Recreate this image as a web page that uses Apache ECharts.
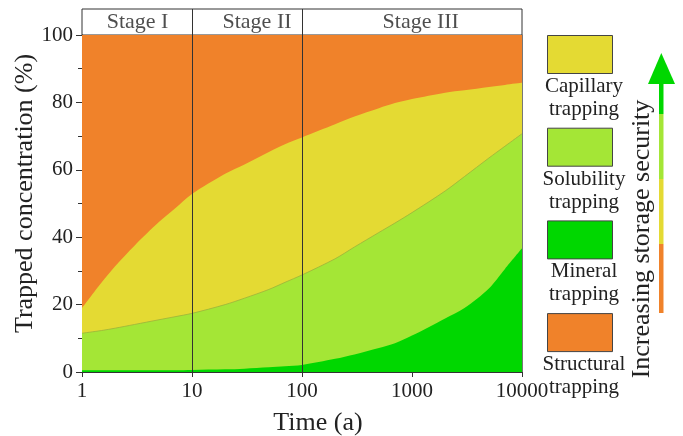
<!DOCTYPE html>
<html>
<head>
<meta charset="utf-8">
<script src="https://cdn.jsdelivr.net/npm/echarts@6/dist/echarts.min.js"></script>
<style>
html,body{margin:0;padding:0;background:#fff;}
#chart{width:683px;height:436px;}
</style>
</head>
<body>
<div id="chart"></div>
<script>
// ---- data ----
const times = [1, 1.5, 2, 3, 5, 7, 10, 20, 30, 50, 70, 100, 200, 300, 500, 700, 1000, 2000, 3000, 5000, 7000, 10000];
// cumulative upper boundaries (%) of each trapping layer
const structuralTop = [100, 100, 100, 100, 100, 100, 100, 100, 100, 100, 100, 100, 100, 100, 100, 100, 100, 100, 100, 100, 100, 100];
const capillaryTop  = [19.0, 26.5, 31.4, 37.5, 44.5, 48.5, 52.8, 58.8, 61.6, 65.3, 67.6, 69.6, 73.5, 75.8, 78.3, 79.8, 81.0, 82.9, 83.6, 84.6, 85.2, 85.8];
const solubilityTop = [11.5, 12.3, 13.0, 14.1, 15.5, 16.4, 17.4, 20.0, 21.9, 24.5, 26.6, 28.8, 33.6, 37.1, 41.4, 44.2, 47.3, 53.7, 58.0, 63.5, 67.0, 70.7];
const mineralTop    = [0.5, 0.5, 0.5, 0.5, 0.5, 0.5, 0.6, 0.8, 1.0, 1.4, 1.7, 2.1, 3.9, 5.2, 7.1, 8.5, 10.8, 15.9, 19.0, 24.8, 30.6, 36.7];

const seriesNames = ['Structural trapping', 'Capillary trapping', 'Solubility trapping', 'Mineral trapping'];
const legendOrder = ['Capillary trapping', 'Solubility trapping', 'Mineral trapping', 'Structural trapping'];
const stageNames = ['Stage I', 'Stage II', 'Stage III'];
const stageLabelX = [3.2, 39, 1200];
const stageBounds = [10, 100];
const yTicks = [0, 20, 40, 60, 80, 100];

const colors = {
  'Structural trapping': '#F0822A',
  'Capillary trapping': '#E4DA33',
  'Solubility trapping': '#A4E636',
  'Mineral trapping': '#00D700'
};
const layerData = [structuralTop, capillaryTop, solubilityTop, mineralTop];

const FONT = "'Liberation Serif','Times New Roman',serif";
const TXT = '#222';
const chart = echarts.init(document.getElementById('chart'), null, {renderer: 'canvas'});

const areaSeries = seriesNames.map((name, i) => ({
  name: name,
  type: 'line',
  xAxisIndex: 0,
  yAxisIndex: 0,
  data: times.map((t, k) => [t, layerData[i][k]]),
  smooth: 0.3,
  showSymbol: false,
  symbol: 'none',
  lineStyle: name === 'Solubility trapping' ? {width: 0.8, color: '#9db23a'} : {width: 0},
  itemStyle: {color: colors[name]},
  areaStyle: {color: colors[name], opacity: 1},
  silent: true,
  z: 2
}));

// divider lines in the main plot
areaSeries[areaSeries.length - 1].markLine = {
  symbol: 'none', silent: true, animation: false,
  label: {show: false},
  lineStyle: {color: '#333', width: 1, type: 'solid'},
  data: stageBounds.map(v => ({xAxis: v}))
};

const headerSeries = {
  type: 'scatter',
  xAxisIndex: 1,
  yAxisIndex: 2,
  symbolSize: 1,
  itemStyle: {color: 'rgba(0,0,0,0)'},
  data: stageNames.map((s, i) => [stageLabelX[i], 0.5, s]),
  label: {
    show: true, position: 'inside',
    formatter: p => p.data[2],
    fontFamily: FONT, fontSize: 22, color: TXT
  },
  silent: true,
  markLine: {
    symbol: 'none', silent: true, animation: false,
    label: {show: false},
    lineStyle: {color: '#333', width: 1, type: 'solid'},
    data: stageBounds.map(v => ({xAxis: v}))
  }
};

// legend (boxes with captions below) and security arrow as graphics
const graphics = [];
legendOrder.forEach((name, i) => {
  const top = 35 + 92.7 * i;
  graphics.push({
    type: 'rect', shape: {x: 547.5, y: top + 0.5, width: 65, height: 38},
    style: {fill: colors[name], stroke: '#444', lineWidth: 1}, silent: true
  });
  graphics.push({
    type: 'text', x: 584, y: top + 40,
    style: {text: name.replace(' ', '\n'), font: '21px ' + FONT, fill: TXT,
            align: 'center', verticalAlign: 'top', lineHeight: 23}, silent: true
  });
});
const arrowSegs = [
  ['Mineral trapping', 83, 114],
  ['Solubility trapping', 114, 179],
  ['Capillary trapping', 179, 244],
  ['Structural trapping', 244, 313]
];
arrowSegs.forEach(s => {
  graphics.push({type: 'rect', shape: {x: 659, y: s[1], width: 4.5, height: s[2] - s[1]},
    style: {fill: colors[s[0]]}, silent: true});
});
graphics.push({type: 'polygon', shape: {points: [[648, 84], [675, 84], [661.3, 53]]},
  style: {fill: colors['Mineral trapping']}, silent: true});
graphics.push({type: 'text', x: 642, y: 239, rotation: Math.PI / 2,
  style: {text: 'Increasing storage security', font: '26px ' + FONT, fill: TXT,
          align: 'center', verticalAlign: 'middle'}, silent: true});

const option = {
  animation: false,
  backgroundColor: '#fff',
  textStyle: {fontFamily: FONT},
  grid: [
    {left: 82, right: 161, top: 35, bottom: 64, show: false, containLabel: false, outerBoundsMode: 'none'},
    {left: 82, right: 161, top: 9, height: 26, show: true, borderColor: '#333', borderWidth: 1, backgroundColor: '#fff', containLabel: false, outerBoundsMode: 'none'}
  ],
  xAxis: [
    {
      type: 'log', logBase: 10, min: 1, max: 10000, gridIndex: 0,
      axisLine: {show: true, lineStyle: {color: '#333', width: 1}},
      axisTick: {show: true, length: 5, lineStyle: {color: '#333'}},
      minorTick: {show: false},
      splitLine: {show: false},
      axisLabel: {fontFamily: FONT, fontSize: 21, color: TXT, margin: 9,
                  formatter: v => String(Math.round(v))},
      name: 'Time (a)', nameLocation: 'middle', nameGap: 38, nameMoveOverlap: false,
      nameTextStyle: {fontFamily: FONT, fontSize: 26, color: TXT, padding: [0, 0, 0, 32]}
    },
    {type: 'log', logBase: 10, min: 1, max: 10000, gridIndex: 1, show: false}
  ],
  yAxis: [
    {
      type: 'value', min: yTicks[0], max: yTicks[yTicks.length - 1], interval: yTicks[1] - yTicks[0], gridIndex: 0,
      axisLine: {show: true, lineStyle: {color: '#333', width: 1}},
      axisTick: {show: true, length: 6, lineStyle: {color: '#333'}},
      minorTick: {show: true, splitNumber: 2, length: 4, lineStyle: {color: '#333'}},
      splitLine: {show: false},
      axisLabel: {fontFamily: FONT, fontSize: 21, color: TXT, margin: 9},
      name: 'Trapped concentration (%)', nameLocation: 'middle', nameGap: 44, nameMoveOverlap: false,
      nameTextStyle: {fontFamily: FONT, fontSize: 26, color: TXT, padding: [0, 0, 0, 20]}
    },
    {
      type: 'value', min: 0, max: 100, gridIndex: 0, position: 'right',
      axisLine: {show: true, lineStyle: {color: '#777', width: 1}},
      axisTick: {show: false}, axisLabel: {show: false}, splitLine: {show: false}
    },
    {type: 'value', min: 0, max: 1, gridIndex: 1, show: false}
  ],
  series: areaSeries.concat([headerSeries]),
  graphic: graphics
};
chart.setOption(option);
</script>
</body>
</html>
